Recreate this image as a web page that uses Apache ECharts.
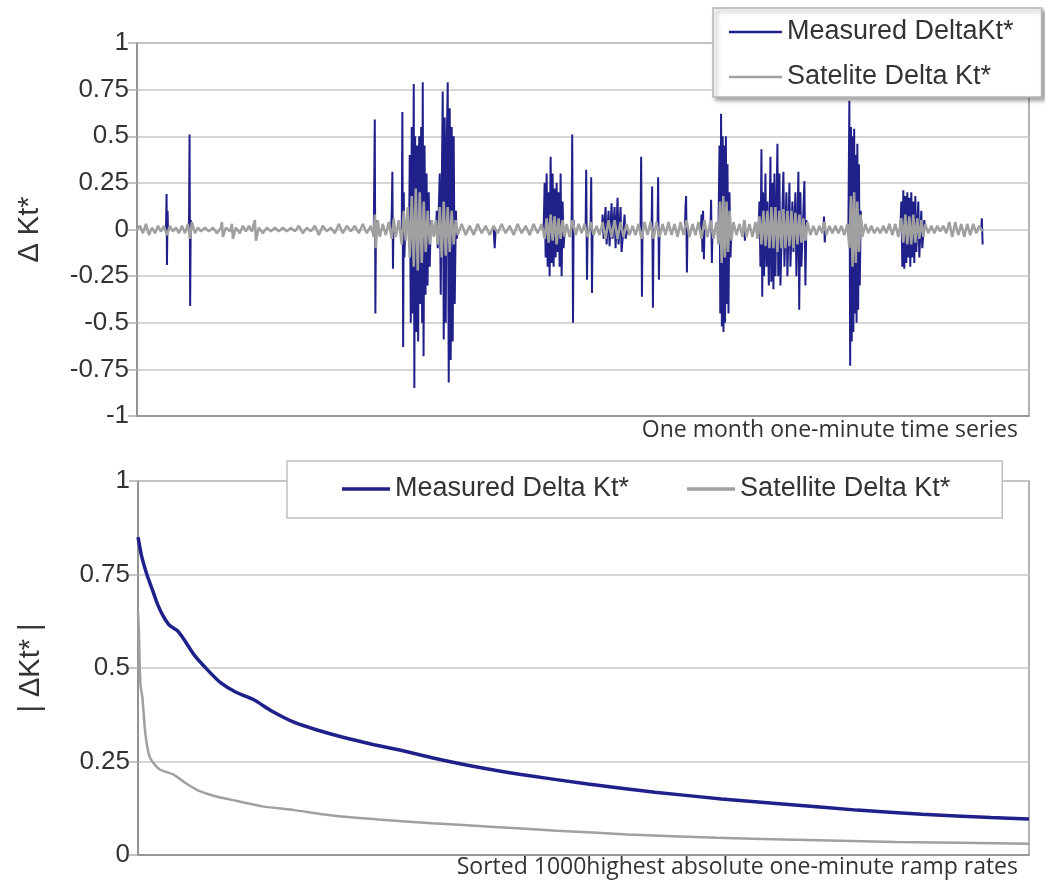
<!DOCTYPE html>
<html>
<head>
<meta charset="utf-8">
<script src="https://cdn.jsdelivr.net/npm/echarts@6/dist/echarts.min.js"></script>
<style>
html,body{margin:0;padding:0;background:#fff;}
#chart{width:1045px;height:884px;}
</style>
</head>
<body>
<div id="chart"></div>
<script>
// ---------- Top panel: one-month one-minute series (x = minute of month) ----------
var measuredSeries = [
[1450,0],[1480,0.19],[1500,-0.19],[1530,0.1],[1550,0],[1600,'-'],
[2600,0],[2630,0.51],[2660,-0.41],[2690,0.05],[2720,0],[2800,'-'],
[11850,0],[11900,0.59],[11930,-0.45],[11960,0.05],[12000,0],[12100,'-'],
[12720,0],[12750,0.1],[12780,0.31],[12810,-0.21],[12840,0.05],[12870,0],[12900,'-'],
[13250,0],[13280,0.63],[13320,-0.63],[13350,0.2],[13380,-0.15],[13420,0],[13500,'-'],
[13620,0],[13650,0.4],[13700,-0.5],[13750,0.55],[13800,-0.45],[13850,0.78],[13880,-0.85],[13920,0.5],[13970,-0.55],[14020,0.45],[14070,-0.6],[14120,0.5],[14170,-0.4],[14220,0.55],[14270,-0.5],[14300,0.79],[14340,-0.68],[14390,0.45],[14440,-0.35],[14490,0.3],[14540,-0.3],[14600,0.2],[14650,-0.2],[14700,0.05],[14740,0],[14800,'-'],
[14970,0],[15000,0.1],[15050,-0.1],[15150,0.3],[15200,-0.35],[15300,0.74],[15350,-0.59],[15400,0.6],[15450,-0.5],[15500,0.45],[15550,0.79],[15600,-0.82],[15650,0.65],[15700,-0.7],[15750,0.55],[15800,-0.6],[15850,0.5],[15900,-0.4],[15960,0.1],[16000,-0.05],[16050,0],[16100,'-'],
[17850,0],[17900,-0.1],[17950,0],[18000,'-'],
[20350,0],[20400,0.25],[20450,-0.15],[20500,0.3],[20550,-0.2],[20600,0.2],[20650,-0.25],[20700,0.39],[20750,-0.18],[20800,0.3],[20850,-0.2],[20900,0.22],[20950,-0.15],[21000,0.25],[21050,-0.12],[21100,0.2],[21150,-0.2],[21200,0.3],[21250,-0.25],[21300,0.15],[21350,-0.1],[21400,0],[21500,'-'],
[21750,0],[21780,0.51],[21820,-0.5],[21850,0.05],[21880,0],[21950,'-'],
[22450,0],[22480,0.32],[22520,-0.27],[22550,0],[22600,'-'],
[22700,0],[22730,0.28],[22770,-0.34],[22800,0],[22900,'-'],
[23270,0],[23300,0.08],[23350,-0.05],[23450,0.12],[23500,-0.08],[23600,0.1],[23650,-0.09],[23750,0.14],[23800,-0.05],[23900,0.12],[23950,-0.1],[24050,0.17],[24100,-0.08],[24200,0.12],[24250,-0.12],[24400,0.08],[24450,-0.05],[24550,0],[24600,'-'],
[25200,0],[25230,0.39],[25270,-0.36],[25300,0],[25400,'-'],
[25750,0],[25780,0.23],[25820,-0.42],[25850,0],[25950,'-'],
[26050,0],[26080,0.28],[26120,-0.27],[26150,0],[26200,'-'],
[27420,0],[27450,0.12],[27480,0.18],[27520,-0.23],[27550,0],[27600,'-'],
[28220,0],[28250,0.08],[28300,-0.12],[28330,0.1],[28370,-0.16],[28400,0],[28450,'-'],
[28700,0],[28730,0.16],[28770,-0.18],[28800,0],[28850,'-'],
[29100,0],[29150,0.45],[29190,-0.45],[29230,0.62],[29270,-0.52],[29310,0.5],[29350,-0.55],[29390,0.45],[29430,-0.5],[29470,0.5],[29510,-0.4],[29550,0.35],[29600,-0.45],[29650,0.2],[29700,-0.15],[29750,0],[29800,'-'],
[30350,0],[30380,0.05],[30420,-0.06],[30450,0],[30500,'-'],
[31100,0],[31150,0.15],[31200,-0.2],[31250,0.43],[31290,-0.36],[31330,0.2],[31380,-0.25],[31450,0.3],[31500,-0.2],[31550,0.15],[31620,-0.3],[31700,0.39],[31740,-0.28],[31800,0.25],[31850,-0.32],[31900,0.3],[31950,-0.25],[32050,0.46],[32090,-0.25],[32150,0.3],[32200,-0.3],[32350,0.31],[32400,-0.2],[32500,0.2],[32550,-0.25],[32650,0.25],[32700,-0.2],[32800,0.15],[32850,-0.12],[32950,0.2],[33000,-0.25],[33100,0.31],[33140,-0.43],[33200,0.2],[33250,-0.2],[33400,0.26],[33450,-0.3],[33500,0.05],[33550,0],[33600,'-'],
[34350,0],[34380,0.07],[34420,-0.07],[34450,0],[34500,'-'],
[35600,0],[35650,0.69],[35690,-0.73],[35730,0.55],[35770,-0.6],[35810,0.5],[35850,-0.55],[35890,0.54],[35930,-0.45],[35970,0.4],[36010,-0.5],[36050,0.46],[36090,-0.43],[36130,0.35],[36170,-0.3],[36220,0.1],[36260,0],[36300,'-'],
[38200,0],[38250,0.15],[38300,-0.2],[38350,0.21],[38400,-0.21],[38450,0.18],[38500,-0.18],[38550,0.2],[38600,-0.15],[38650,0.17],[38700,-0.2],[38750,0.2],[38800,-0.15],[38850,0.15],[38900,-0.18],[38950,0.18],[39000,-0.12],[39100,0.15],[39150,-0.15],[39250,0.1],[39300,-0.1],[39400,0.05],[39450,0],[39500,'-'],
[42250,0],[42280,0.06],[42320,-0.08]
];
var satelliteSeries = [
[0,0],[150,0.02],[300,-0.02],[450,0.03],[600,-0.03],[750,0.01],[900,-0.02],[1050,0.02],[1200,-0.01],[1350,0.02],[1500,-0.03],[1650,0.02],[1800,-0.01],[1950,0.01],[2100,-0.02],[2250,0.02],[2400,-0.02],[2550,0.03],[2650,-0.05],[2750,0.04],[2900,-0.02],[3050,0.01],[3200,-0.01],[3400,0.01],[3600,-0.01],[3800,0.01],[4000,-0.02],[4200,0.01],
[4250,0.04],[4300,-0.04],[4450,0.01],[4650,-0.01],[4750,0.03],[4800,-0.05],[4950,0.01],[5150,-0.02],[5300,0.02],[5450,-0.01],[5600,0.02],[5750,-0.01],
[5900,0.05],[5950,-0.06],[6100,0.01],[6300,-0.02],[6500,0.01],[6700,-0.01],[6900,0.01],[7100,-0.01],[7300,0.01],[7500,-0.01],[7700,0.01],[7900,-0.01],[8100,0.02],[8300,-0.02],[8500,0.01],[8700,-0.01],[8900,0.02],[9100,-0.03],[9300,0.02],[9500,-0.01],[9700,0.01],[9900,-0.02],[10100,0.03],[10300,-0.02],[10500,0.02],[10700,-0.01],[10900,0.02],[11100,-0.02],[11300,0.03],[11500,-0.02],[11700,0.02],
[11850,-0.04],[11900,0.08],[11950,-0.1],[12050,0.05],[12150,-0.04],[12300,0.03],[12450,-0.03],[12600,0.04],[12750,-0.05],[12850,0.06],[12950,-0.04],[13100,0.05],[13250,-0.08],[13350,0.1],[13450,-0.06],[13550,0.12],[13650,-0.15],[13750,0.18],[13850,-0.2],[13950,0.22],[14050,-0.22],[14150,0.2],[14250,-0.18],[14350,0.15],[14450,-0.12],[14550,0.1],[14650,-0.08],[14750,0.05],[14850,-0.04],[14950,0.05],[15050,-0.08],[15150,0.12],[15250,-0.15],[15350,0.15],[15450,-0.14],[15550,0.12],[15650,-0.12],[15750,0.1],[15850,-0.08],[15950,0.05],[16050,-0.03],
[16250,0.03],[16450,-0.03],[16650,0.02],[16850,-0.03],[17050,0.03],[17250,-0.02],[17450,0.02],[17650,-0.03],[17850,0.02],[18050,-0.02],[18250,0.03],[18450,-0.02],[18650,0.02],[18850,-0.03],[19050,0.03],[19250,-0.02],[19450,0.02],[19650,-0.03],[19850,0.03],[20050,-0.02],[20250,0.03],
[20400,-0.05],[20500,0.06],[20600,-0.07],[20700,0.08],[20800,-0.06],[20900,0.07],[21000,-0.08],[21100,0.06],[21200,-0.05],[21300,0.05],[21400,-0.04],[21500,0.03],[21650,-0.04],[21800,0.05],[21950,-0.03],[22100,0.03],[22250,-0.02],[22400,0.03],[22550,-0.04],[22700,0.04],[22850,-0.03],[23000,0.02],[23150,-0.03],
[23300,0.04],[23450,-0.05],[23600,0.05],[23750,-0.04],[23900,0.05],[24050,-0.05],[24200,0.04],[24350,-0.04],[24500,0.03],[24650,-0.03],[24800,0.02],[24950,-0.03],[25100,0.03],[25250,-0.05],[25400,0.04],[25550,-0.03],[25700,0.04],[25850,-0.05],[26000,0.04],[26150,-0.04],[26300,0.03],[26450,-0.03],[26600,0.04],[26750,-0.03],[26900,0.03],[27050,-0.04],[27200,0.04],[27350,-0.03],[27500,0.05],[27650,-0.04],[27800,0.03],[27950,-0.03],[28100,0.04],[28250,-0.05],[28400,0.05],[28550,-0.04],[28700,0.05],[28850,-0.05],[29000,0.04],
[29100,-0.08],[29180,0.15],[29260,-0.18],[29340,0.18],[29420,-0.15],[29500,0.15],[29580,-0.12],[29660,0.1],[29750,-0.06],[29850,0.04],[30000,-0.03],[30150,0.03],[30300,-0.04],[30400,0.05],[30500,-0.04],[30650,0.03],[30800,-0.04],[30950,0.04],[31050,-0.05],
[31150,0.07],[31250,-0.08],[31350,0.1],[31450,-0.09],[31550,0.1],[31650,-0.1],[31750,0.12],[31850,-0.1],[31950,0.12],[32050,-0.12],[32150,0.1],[32250,-0.1],[32350,0.11],[32450,-0.1],[32550,0.1],[32650,-0.09],[32750,0.1],[32850,-0.1],[32950,0.09],[33050,-0.08],[33150,0.08],[33250,-0.07],[33350,0.06],[33450,-0.06],[33550,0.04],[33700,-0.03],[33850,0.02],[34000,-0.03],[34150,0.02],[34300,-0.02],[34400,0.04],[34500,-0.03],[34650,0.02],[34800,-0.02],[34950,0.02],[35100,-0.02],[35250,0.02],[35400,-0.03],[35550,0.03],
[35650,-0.1],[35730,0.18],[35810,-0.2],[35890,0.2],[35970,-0.18],[36050,0.15],[36130,-0.12],[36210,0.08],[36300,-0.04],[36450,0.03],[36600,-0.02],[36750,0.02],[36900,-0.02],[37050,0.01],[37200,-0.02],[37350,0.02],[37500,-0.02],[37650,0.03],[37800,-0.03],[37950,0.03],[38100,-0.04],
[38250,0.06],[38350,-0.07],[38450,0.08],[38550,-0.08],[38650,0.07],[38750,-0.08],[38850,0.08],[38950,-0.07],[39050,0.06],[39150,-0.05],[39250,0.05],[39350,-0.04],[39450,0.03],[39600,-0.02],[39750,0.02],[39900,-0.02],[40050,0.02],[40200,-0.01],[40350,0.02],[40500,-0.02],[40650,0.04],[40800,-0.04],[40950,0.04],[41100,-0.03],[41250,0.03],[41400,-0.04],[41550,0.03],[41700,-0.03],[41850,0.03],[42000,-0.02],[42150,0.02],[42300,-0.01]
];
var topYTicks = [-1,-0.75,-0.5,-0.25,0,0.25,0.5,0.75,1];

// ---------- Bottom panel: sorted 1000 highest |ramp| (x = rank) ----------
var measuredSorted = [[0,0.85],[4,0.8],[10,0.75],[16,0.71],[22,0.67],[28,0.64],[35,0.615],[44,0.6],[52,0.575],[63,0.535],[78,0.495],[93,0.46],[110,0.435],[130,0.415],[150,0.385],[175,0.355],[200,0.335],[230,0.315],[265,0.295],[295,0.28],[330,0.26],[370,0.24],[430,0.215],[505,0.19],[580,0.168],[655,0.15],[730,0.135],[807,0.12],[880,0.109],[957,0.1],[1000,0.096]];
var satelliteSorted = [[0,0.65],[1,0.6],[2,0.5],[3,0.45],[5,0.42],[8,0.33],[12,0.27],[16,0.25],[25,0.228],[40,0.215],[55,0.19],[70,0.17],[90,0.155],[110,0.145],[140,0.13],[175,0.12],[220,0.105],[270,0.095],[330,0.085],[400,0.075],[470,0.065],[550,0.055],[650,0.046],[750,0.04],[850,0.035],[1000,0.03]];
var bottomYTicks = [0,0.25,0.5,0.75,1];

var BLUE = '#20208a', GRAY = '#a0a0a0';
var FONT = '"Liberation Sans", Arial, sans-serif';
var NAMEFONT = '"Open Sans", sans-serif';

var chart = echarts.init(document.getElementById('chart'), null, {renderer:'canvas'});
var yCommon = function(ticks){
  return {
    type:'value', min:ticks[0], max:ticks[ticks.length-1], interval:0.25,
    axisLine:{show:true, lineStyle:{color:'#8a8a8a', width:1.5}},
    axisTick:{show:true, length:9, lineStyle:{color:'#b0b0b0', width:1.5}},
    axisLabel:{color:'#333', fontSize:26, fontFamily:FONT, margin:8},
    splitLine:{show:true, lineStyle:{color:'#c8c8c8', width:1.5}},
    nameLocation:'middle', nameRotate:90,
    nameTextStyle:{color:'#333', fontSize:29, fontFamily:FONT}
  };
};
var yTop = yCommon(topYTicks); yTop.gridIndex=0; yTop.name='\u0394 Kt*'; yTop.nameGap=93;
var yBot = yCommon(bottomYTicks); yBot.gridIndex=1; yBot.name='| \u0394Kt* |'; yBot.nameGap=93;

chart.setOption({
  animation:false,
  backgroundColor:'#fff',
  grid:[
    {left:137, right:16, top:43, height:373, show:true, borderColor:'#9a9a9a', borderWidth:1.5, backgroundColor:'transparent'},
    {left:138, right:16, top:481, height:374, show:true, borderColor:'#9a9a9a', borderWidth:1.5, backgroundColor:'transparent'}
  ],
  legend:[
    {
      data:['Measured DeltaKt*','Satelite Delta Kt*'],
      orient:'vertical', left:713, top:8, icon:'rect',
      padding:[9,28,5,16], itemGap:15, itemWidth:53, itemHeight:2.5,
      backgroundColor:'#fff', borderColor:'#b5b5b5', borderWidth:1.5,
      shadowColor:'rgba(0,0,0,0.35)', shadowBlur:4, shadowOffsetX:3, shadowOffsetY:3,
      textStyle:{color:'#333', fontSize:27, fontFamily:FONT, lineHeight:30}
    },
    {
      data:['Measured Delta Kt*','Satellite Delta Kt*'],
      orient:'horizontal', left:287, top:461, icon:'rect',
      padding:[13,52,14,55], itemGap:58, itemWidth:48, itemHeight:3.5,
      backgroundColor:'#fff', borderColor:'#c0c0c0', borderWidth:1.5,
      textStyle:{color:'#333', fontSize:27, fontFamily:FONT, lineHeight:30}
    }
  ],
  xAxis:[
    {type:'value', gridIndex:0, min:0, max:44640, axisLine:{show:true, onZero:false, lineStyle:{color:'#8a8a8a', width:1.5}},
     axisTick:{show:false}, axisLabel:{show:false}, splitLine:{show:false},
     name:'One month one-minute time series', nameLocation:'end', nameGap:-11,
     nameTextStyle:{color:'#333', fontSize:23, fontFamily:NAMEFONT, align:'right', verticalAlign:'top', padding:[3,0,0,0]}},
    {type:'value', gridIndex:1, min:0, max:1000, axisLine:{show:true, onZero:false, lineStyle:{color:'#8a8a8a', width:1.5}},
     axisTick:{show:false}, axisLabel:{show:false}, splitLine:{show:false},
     name:'Sorted 1000highest absolute one-minute ramp rates', nameLocation:'end', nameGap:-11,
     nameTextStyle:{color:'#333', fontSize:23, fontFamily:NAMEFONT, align:'right', verticalAlign:'top', padding:[1,0,0,0]}}
  ],
  yAxis:[yTop, yBot],
  series:[
    {name:'Measured DeltaKt*', type:'line', xAxisIndex:0, yAxisIndex:0, data:measuredSeries,
     symbol:'none', connectNulls:false, lineStyle:{color:BLUE, width:2}, itemStyle:{color:BLUE}, z:2},
    {name:'Satelite Delta Kt*', type:'line', xAxisIndex:0, yAxisIndex:0, data:satelliteSeries,
     symbol:'none', lineStyle:{color:GRAY, width:2.5}, itemStyle:{color:GRAY}, z:3},
    {name:'Measured Delta Kt*', type:'line', xAxisIndex:1, yAxisIndex:1, data:measuredSorted,
     symbol:'none', smooth:0.2, lineStyle:{color:BLUE, width:3.5}, itemStyle:{color:BLUE}, z:3},
    {name:'Satellite Delta Kt*', type:'line', xAxisIndex:1, yAxisIndex:1, data:satelliteSorted,
     symbol:'none', smooth:0.2, lineStyle:{color:GRAY, width:2.5}, itemStyle:{color:GRAY}, z:2}
  ]
});
</script>
</body>
</html>
